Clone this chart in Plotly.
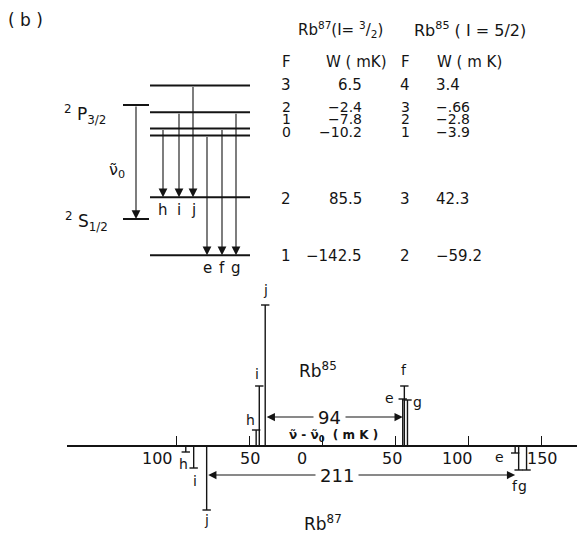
import plotly.graph_objects as go

# ---------------------------------------------------------------- data --
# Hyperfine level energies W (mK), measured from each fine-structure centroid
RB87_F_UPPER = [3, 2, 1, 0]
RB87_W_UPPER = [6.5, -2.4, -7.8, -10.2]      # 2P3/2
RB87_F_LOWER = [2, 1]
RB87_W_LOWER = [85.5, -142.5]                # 2S1/2

RB85_F_UPPER = [4, 3, 2, 1]
RB85_W_UPPER = [3.4, -0.66, -2.8, -3.9]
RB85_F_LOWER = [3, 2]
RB85_W_LOWER = [42.3, -59.2]

# Allowed components: upper / lower level index for each lettered line
LINE_LABELS = ["h", "i", "j", "e", "f", "g"]
LINE_UPPER = [2, 1, 0, 3, 2, 1]
LINE_LOWER = [0, 0, 0, 1, 1, 1]

# Relative line strengths (arbitrary units); Rb87 is drawn downward
RB85_INTENSITY = [16, 60, 141, 47, 60, 46]
RB87_INTENSITY = [6, 22, 64, 7, 24, 24]

TICK_VALUES = [-100, -50, 0, 50, 100, 150]
TICK_TEXT = ["100", "50", "0", "50", "100", "150"]

# ------------------------------------------------------------- layout --
W, H = 577, 533
AXIS_PX = 446          # vertical position of the frequency axis
ZERO_PX = 322          # horizontal position of nu - nu0 = 0
PX_PER_MK = 1.46
AXIS_LEFT_PX = 67
INK = "#141414"
FONT = "DejaVu Sans"

X_RANGE = [(AXIS_LEFT_PX - ZERO_PX) / PX_PER_MK, (W - ZERO_PX) / PX_PER_MK]
Y_RANGE = [-(H - AXIS_PX), AXIS_PX]

# level-diagram geometry (schematic, in page pixels)
LEVEL_X = (150, 250)
FS_X = (123, 149)
CENTROID_ARROW_X = 136
TRANSITION_ARROW_X = [163, 179, 193, 207, 222, 236]


def upper_y(w):
    return 105 - 3.0 * w


def lower_y(w):
    return 219 - 0.254 * w


def line_positions(w_up, w_low):
    return [w_up[u] - w_low[l] for u, l in zip(LINE_UPPER, LINE_LOWER)]


def fmt_w(w):
    s = f"{w:g}"
    if s.startswith("-0."):
        s = "-" + s[2:]
    return s.replace("-", "\u2212")


nu85 = line_positions(RB85_W_UPPER, RB85_W_LOWER)
nu87 = line_positions(RB87_W_UPPER, RB87_W_LOWER)
idx = {k: n for n, k in enumerate(LINE_LABELS)}

fig = go.Figure()

# ---------------------------------------------------------- spectrum --
xs, ys, cx, cy = [], [], [], []
for nu, a in zip(nu85, RB85_INTENSITY):
    xs += [nu, nu, None]
    ys += [0, a, None]
    cx.append(nu)
    cy.append(a)
for nu, a in zip(nu87, RB87_INTENSITY):
    xs += [nu, nu, None]
    ys += [0, -a, None]
    cx.append(nu)
    cy.append(-a)

fig.add_trace(go.Scatter(x=xs, y=ys, mode="lines", line=dict(color=INK, width=1.4),
                         xaxis="x", yaxis="y", hoverinfo="skip"))
fig.add_trace(go.Scatter(x=cx, y=cy, mode="markers",
                         marker=dict(symbol="line-ew", size=6,
                                     line=dict(color=INK, width=1.4)),
                         xaxis="x", yaxis="y", hoverinfo="skip"))

ann = []

# tick labels
TICK_LABEL_SHIFT = [-19, 1, -20, -3, -11, 1]
for v, t, dx in zip(TICK_VALUES, TICK_TEXT, TICK_LABEL_SHIFT):
    ann.append(dict(x=v, y=0, xref="x", yref="y", text=t, showarrow=False,
                    xshift=dx, yshift=-12, font=dict(size=16)))

# line letters
RB85_LABEL_SHIFT = [(-6, 10), (-2, 12), (0, 15), (-13, 1), (0, 16), (10, -2)]
RB87_LABEL_SHIFT = [(-2, -12), (1, -13), (0, -10), (-16, -4), (-4, -16), (-4, -16)]
for lab, nu, a, (dx, dy) in zip(LINE_LABELS, nu85, RB85_INTENSITY, RB85_LABEL_SHIFT):
    ann.append(dict(x=nu, y=a, xref="x", yref="y", text=lab, showarrow=False,
                    xshift=dx, yshift=dy, font=dict(size=14)))
for lab, nu, a, (dx, dy) in zip(LINE_LABELS, nu87, RB87_INTENSITY, RB87_LABEL_SHIFT):
    ann.append(dict(x=nu, y=-a, xref="x", yref="y", text=lab, showarrow=False,
                    xshift=dx, yshift=dy, font=dict(size=14)))

# separation arrows between the j and e components
ARROW_H = 29
arrow_style = dict(showarrow=True, arrowhead=2, startarrowhead=2, arrowside="end+start",
                   arrowsize=1.5, startarrowsize=1.5, arrowwidth=1.1, arrowcolor=INK,
                   text="")
for nu, y, sx in ((nu85, ARROW_H, -4), (nu87, -ARROW_H, -24)):
    left, right = nu[idx["j"]], nu[idx["e"]]
    ann.append(dict(x=right, y=y, ax=left, ay=y, xref="x", yref="y",
                    axref="x", ayref="y", **arrow_style))
    ann.append(dict(x=(left + right) / 2, y=y, xref="x", yref="y",
                    text=f"{right - left:.0f}", showarrow=False, bgcolor="white",
                    borderpad=4, xshift=sx, font=dict(size=18)))

ann.append(dict(x=333, y=436, xref="x2", yref="y2", showarrow=False,
                text="<b>\u03bd\u0303 - \u03bd\u0303<sub>0</sub>  ( m K )</b>",
                font=dict(size=12)))
ann.append(dict(x=318, y=370, xref="x2", yref="y2", showarrow=False,
                text="Rb<sup>85</sup>", font=dict(size=17)))
ann.append(dict(x=323, y=523, xref="x2", yref="y2", showarrow=False,
                text="Rb<sup>87</sup>", font=dict(size=17)))

# ----------------------------------------------------- level diagram --
lx, ly = [], []
for w in RB87_W_UPPER:
    lx += [LEVEL_X[0], LEVEL_X[1], None]
    ly += [upper_y(w), upper_y(w), None]
for w in RB87_W_LOWER:
    lx += [LEVEL_X[0], LEVEL_X[1], None]
    ly += [lower_y(w), lower_y(w), None]
lx += [FS_X[0], FS_X[1], None, FS_X[0], FS_X[1], None]
ly += [upper_y(0), upper_y(0), None, lower_y(0), lower_y(0), None]
fig.add_trace(go.Scatter(x=lx, y=ly, mode="lines", line=dict(color=INK, width=2),
                         xaxis="x2", yaxis="y2", hoverinfo="skip"))

down_arrow = dict(showarrow=True, arrowhead=2, arrowsize=1.6, arrowwidth=1.1,
                  arrowcolor=INK, text="", xref="x2", yref="y2",
                  axref="x2", ayref="y2")
ann.append(dict(x=CENTROID_ARROW_X, y=lower_y(0), ax=CENTROID_ARROW_X, ay=upper_y(0),
                **down_arrow))
for lab, u, l, xa in zip(LINE_LABELS, LINE_UPPER, LINE_LOWER, TRANSITION_ARROW_X):
    y0 = upper_y(RB87_W_UPPER[u])
    y1 = lower_y(RB87_W_LOWER[l])
    ann.append(dict(x=xa, y=y1, ax=xa, ay=y0, **down_arrow))
    ann.append(dict(x=xa, y=y1 + 13, xref="x2", yref="y2", text=lab,
                    showarrow=False, font=dict(size=15)))

ann.append(dict(x=85, y=114, xref="x2", yref="y2", showarrow=False,
                text="<sup>2</sup> P<sub>3/2</sub>", font=dict(size=17)))
ann.append(dict(x=86, y=221, xref="x2", yref="y2", showarrow=False,
                text="<sup>2</sup> S<sub>1/2</sub>", font=dict(size=17)))
ann.append(dict(x=117, y=170, xref="x2", yref="y2", showarrow=False,
                text="\u03bd\u0303<sub>0</sub>", font=dict(size=16)))
ann.append(dict(x=25, y=20, xref="x2", yref="y2", showarrow=False,
                text="( b )", font=dict(size=17)))

# ------------------------------------------------------------- table --
ROW_Y = [85, 106.5, 119, 131.5, 199, 256]
ROW_SIZE = [15, 14, 14, 14, 15, 15]
F87_X, W87_RIGHT, F85_X, W85_LEFT = 286, 364, 405, 434

ann.append(dict(x=340, y=29, xref="x2", yref="y2", showarrow=False,
                text="Rb<sup>87</sup>(I= <sup>3</sup>/<sub>2</sub>)", font=dict(size=15)))
ann.append(dict(x=470, y=29, xref="x2", yref="y2", showarrow=False,
                text="Rb<sup>85</sup> ( I = 5/2)", font=dict(size=16)))
for x, t in ((F87_X, "F"), (356, "W ( mK)"), (F85_X, "F"), (469, "W ( m K)")):
    ann.append(dict(x=x, y=62, xref="x2", yref="y2", showarrow=False,
                    text=t, font=dict(size=15)))

f87 = RB87_F_UPPER + RB87_F_LOWER
w87 = RB87_W_UPPER + RB87_W_LOWER
f85 = RB85_F_UPPER + RB85_F_LOWER
w85 = RB85_W_UPPER + RB85_W_LOWER
for y, s, a, b, c, d in zip(ROW_Y, ROW_SIZE, f87, w87, f85, w85):
    ann.append(dict(x=F87_X, y=y, xref="x2", yref="y2", showarrow=False,
                    text=str(a), font=dict(size=s)))
    ann.append(dict(x=W87_RIGHT, y=y, xref="x2", yref="y2", showarrow=False,
                    xanchor="right", text=fmt_w(b), font=dict(size=s)))
    ann.append(dict(x=F85_X, y=y, xref="x2", yref="y2", showarrow=False,
                    text=str(c), font=dict(size=s)))
    ann.append(dict(x=W85_LEFT, y=y, xref="x2", yref="y2", showarrow=False,
                    xanchor="left", text=fmt_w(d), font=dict(size=s)))

fig.update_layout(
    width=W, height=H,
    margin=dict(l=0, r=0, t=0, b=0),
    paper_bgcolor="white",
    plot_bgcolor="rgba(0,0,0,0)",
    showlegend=False,
    font=dict(family=FONT, color=INK),
    annotations=ann,
    xaxis=dict(domain=[AXIS_LEFT_PX / W, 1], range=X_RANGE, anchor="free",
               position=(H - AXIS_PX) / H, showline=True, linecolor=INK,
               linewidth=1.6, ticks="inside", ticklen=9, tickwidth=1.3,
               tickcolor=INK, tickvals=TICK_VALUES, showticklabels=False,
               showgrid=False, zeroline=False, fixedrange=True),
    yaxis=dict(domain=[0, 1], range=Y_RANGE, visible=False, fixedrange=True),
    xaxis2=dict(domain=[0, 1], range=[0, W], visible=False, anchor="y2",
                fixedrange=True),
    yaxis2=dict(domain=[0, 1], range=[H, 0], visible=False, anchor="x2",
                fixedrange=True),
)

fig.write_html("out.html")
